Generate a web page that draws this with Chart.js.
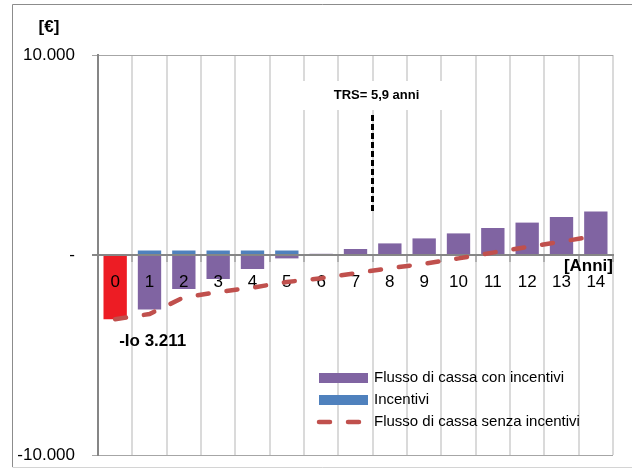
<!DOCTYPE html>
<html><head><meta charset="utf-8">
<script src="https://cdn.jsdelivr.net/npm/chart.js@4/dist/chart.umd.min.js"></script>
<style>html,body{margin:0;padding:0;background:#fff}canvas{display:block}</style>
</head><body>
<canvas id="c" width="632" height="468"></canvas>
<script>
const categories = ['0','1','2','3','4','5','6','7','8','9','10','11','12','13','14'];
const conIncentivi = [-3211, -2720, -1700, -1200, -700, -170, 60, 300, 580, 830, 1080, 1350, 1620, 1900, 2180];
const incentivi = [0, 225, 225, 225, 225, 225, 0, 0, 0, 0, 0, 0, 0, 0, 0];
const senzaIncentivi = [-3211, -2950, -2120, -1850, -1630, -1350, -1160, -910, -660, -440, -170, 120, 400, 670, 950];
const yTickValues = [-10000, 0, 10000];
const yTickLabels = ['-10.000', '-', '10.000'];
const seriesNames = ['Flusso di cassa con incentivi', 'Incentivi', 'Flusso di cassa senza incentivi'];
const yUnit = '[€]';
const xUnit = '[Anni]';
const ioLabel = '-Io 3.211';
const trsLabel = 'TRS= 5,9 anni';
const trsIndex = 7.5;      // TRS marker sits on the boundary between years 7 and 8
const trsLineRange = [2150, 7000];
const trsTextValue = 8000;

const FONT = "'Liberation Sans', Arial, sans-serif";
const PURPLE = '#8064a2', BLUE = '#4f81bd', RED = '#c0504d', RED0 = '#ed1c24';

const decor = {
  id: 'decor',
  beforeDraw(chart) {
    const c = chart.ctx;
    c.save();
    c.fillStyle = '#fff';
    c.fillRect(0, 0, chart.width, chart.height);
    c.lineWidth = 1;
    c.strokeStyle = '#8c8c8c';
    c.beginPath();
    c.moveTo(12.5, 467); c.lineTo(12.5, 4.5); c.lineTo(chart.width, 4.5);
    c.stroke();
    c.strokeStyle = '#d4d4d4';
    c.beginPath();
    c.moveTo(12.5, 467.5); c.lineTo(chart.width, 467.5);
    c.stroke();
    c.restore();
  },
  beforeDatasetDraw(chart, args) {
    if (args.meta.type !== 'line') return;
    const c = chart.ctx, a = chart.chartArea;
    const xs = chart.scales.x;
    const y0 = chart.scales.y.getPixelForValue(0);
    c.save();
    c.strokeStyle = '#868686';
    c.lineWidth = 2;
    c.beginPath();
    c.moveTo(a.left, y0); c.lineTo(a.right, y0);
    c.stroke();
    // category labels (drawn above the bars, below the line)
    c.fillStyle = '#000';
    c.font = '17px ' + FONT;
    c.textAlign = 'center'; c.textBaseline = 'middle';
    chart.data.labels.forEach((lab, i) => {
      c.fillText(lab, xs.getPixelForValue(i), y0 + 27);
    });
    c.restore();
  },
  afterDraw(chart) {
    const c = chart.ctx, a = chart.chartArea;
    const xs = chart.scales.x, ys = chart.scales.y;
    c.save();
    c.fillStyle = '#000';
    c.font = 'bold 17px ' + FONT;
    c.textAlign = 'center'; c.textBaseline = 'middle';
    c.fillText(yUnit, 49, 27);
    c.textAlign = 'right';
    c.fillText(xUnit, a.right, ys.getPixelForValue(0) + 11);
    c.textAlign = 'left';
    c.fillText(ioLabel, xs.getPixelForValue(0) + 4, ys.getPixelForValue(-4330));
    // TRS annotation
    const step = xs.getPixelForValue(1) - xs.getPixelForValue(0);
    const trsX = Math.round(xs.getPixelForValue(7) + step * (trsIndex - 7)) - 0.5;
    const ty = ys.getPixelForValue(trsTextValue);
    c.fillStyle = '#fff';
    c.fillRect(trsX - 75, ty - 14, 158, 29);
    c.fillStyle = '#000';
    c.font = 'bold 13px ' + FONT;
    c.textAlign = 'center';
    c.fillText(trsLabel, trsX + 4, ty);
    c.strokeStyle = '#000';
    c.lineWidth = 3;
    c.setLineDash([6, 3]);
    c.beginPath();
    c.moveTo(trsX, ys.getPixelForValue(trsLineRange[1]));
    c.lineTo(trsX, ys.getPixelForValue(trsLineRange[0]));
    c.stroke();
    c.setLineDash([]);
    // legend
    const ds = chart.data.datasets;
    const lx = 319, ly = 378, gap = 22;
    c.font = '15px ' + FONT;
    c.textAlign = 'left'; c.textBaseline = 'middle';
    c.fillStyle = PURPLE; c.fillRect(lx, ly - 5, 49, 10);
    c.fillStyle = '#000'; c.fillText(ds[1].label, lx + 55, ly);
    c.fillStyle = BLUE; c.fillRect(lx, ly + gap - 5, 49, 10);
    c.fillStyle = '#000'; c.fillText(ds[2].label, lx + 55, ly + gap);
    c.strokeStyle = RED; c.lineWidth = 4.5; c.lineCap = 'round';
    c.setLineDash([11, 18]);
    c.beginPath();
    c.moveTo(lx, ly + 2 * gap); c.lineTo(lx + 45, ly + 2 * gap);
    c.stroke();
    c.setLineDash([]);
    c.fillStyle = '#000'; c.fillText(ds[0].label, lx + 55, ly + 2 * gap);
    c.restore();
  }
};

new Chart(document.getElementById('c'), {
  data: {
    labels: categories,
    datasets: [
      { type: 'line', label: seriesNames[2], data: senzaIncentivi, borderColor: RED, borderWidth: 4.5,
        borderDash: [11, 18], borderCapStyle: 'round', pointRadius: 0, tension: 0, fill: false,
        stack: 'line', order: 0 },
      { type: 'bar', label: seriesNames[0], data: conIncentivi,
        backgroundColor: conIncentivi.map((v, i) => i === 0 ? RED0 : PURPLE),
        stack: 'bars', order: 2, barPercentage: 0.68, categoryPercentage: 1 },
      { type: 'bar', label: seriesNames[1], data: incentivi, backgroundColor: BLUE,
        stack: 'bars', order: 1, barPercentage: 0.68, categoryPercentage: 1 }
    ]
  },
  options: {
    responsive: false, animation: false, devicePixelRatio: 1,
    layout: { padding: { left: 0, top: 55, right: 19, bottom: 13 } },
    plugins: { legend: { display: false }, tooltip: { enabled: false } },
    scales: {
      x: {
        stacked: true, position: { y: 0 }, offset: true,
        afterFit: s => { s.height = 0; },
        grid: { offset: true, color: '#dadada', lineWidth: 2, tickLength: 6, tickColor: '#868686', tickWidth: 1 },
        border: { display: true, color: '#868686', width: 2 },
        ticks: { display: false }
      },
      y: {
        stacked: true, min: -10000, max: 10000,
        afterBuildTicks: s => { s.ticks = yTickValues.map(v => ({ value: v })); },
        afterFit: s => { s.width = 98; s.paddingTop = 0; s.paddingBottom = 0; },
        ticks: { color: '#000', font: { family: FONT, size: 17 }, padding: 17,
          callback: v => yTickLabels[yTickValues.indexOf(v)] },
        grid: { color: c => (c.tick && c.tick.value === 0) ? '#868686' : '#a6a6a6',
          lineWidth: c => (c.tick && c.tick.value === 0) ? 2 : 1, tickLength: 6 },
        border: { color: '#868686', width: 2 }
      }
    }
  },
  plugins: [decor]
});
</script>
</body></html>
